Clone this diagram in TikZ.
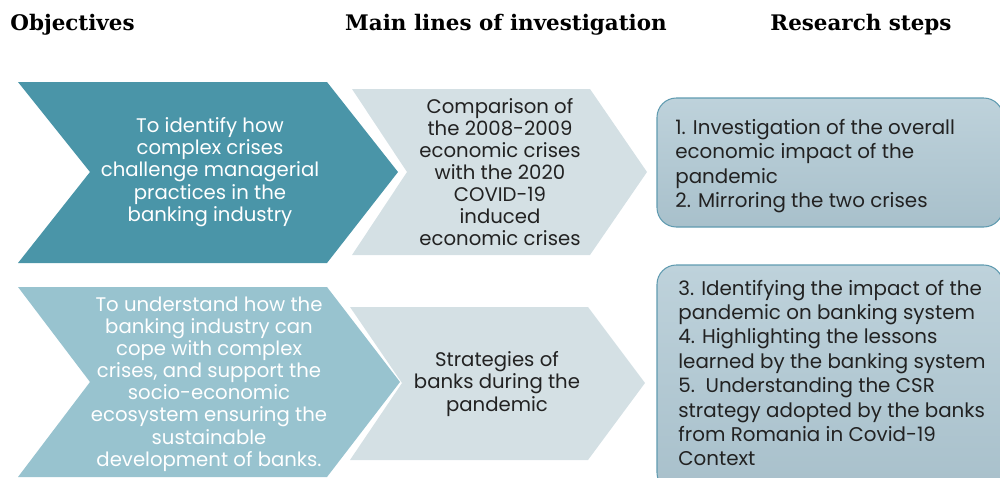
\documentclass[tikz,border=0pt]{standalone}
\usepackage{fontspec}
\setsansfont{Poppins}
\newfontfamily\headfont{DejaVu Serif}
\definecolor{tealdark}{RGB}{74,149,168}
\definecolor{teallight}{RGB}{152,195,207}
\definecolor{greyblue}{RGB}{212,224,228}
\definecolor{boxtop}{RGB}{190,210,219}
\definecolor{boxbot}{RGB}{168,192,203}
\definecolor{boxline}{RGB}{96,155,176}
\definecolor{inktext}{RGB}{34,34,34}

\begin{document}
\begin{tikzpicture}[x=0.02cm,y=-0.02cm,
    head/.style={font=\headfont\bfseries\fontsize{12.2}{14}\selectfont,inner sep=0pt},
    chevtext/.style={font=\sffamily\fontsize{11.2}{12.6}\selectfont,align=center,inner sep=0pt},
    boxtext/.style={font=\sffamily\fontsize{11.3}{13.9}\selectfont,align=left,inner sep=0pt,text=inktext},
    stepbox/.style={draw=boxline,line width=0.6pt,rounded corners=11pt,top color=boxtop,bottom color=boxbot}]

  \useasboundingbox (0,0) rectangle (1000,477);

  % column headings
  \node[head,anchor=base west] (hobj) at (10,30) {Objectives};
  \node[head,anchor=base] (hlines) at (506,30) {Main lines of investigation};
  \node[head,anchor=base] (hsteps) at (861,30) {Research steps};

  % first row
  \fill[tealdark] (18,82) -- (327,82) -- (398,172) -- (327,263) -- (18,263) -- (90,172) -- cycle;
  \fill[greyblue] (352,89) -- (590,89) -- (647,172) -- (590,255) -- (352,255) -- (407,172) -- cycle;
  \draw[stepbox] (657,98) rectangle (1003,227);

  \node[chevtext,text=white] (obj1) at (210,172) {To identify how\\complex crises\\challenge managerial\\practices in the\\banking industry};
  \node[chevtext,text=inktext] (line1) at (500,172) {Comparison of\\the 2008-2009\\economic crises\\with the 2020\\COVID-19\\induced\\economic crises};
  \node[boxtext,anchor=west] (step1) at (675,166) {1. Investigation of the overall\\economic impact of the\\pandemic\\2. Mirroring the two crises};

  % second row
  \fill[teallight] (18,287) -- (327,287) -- (400,382) -- (327,477) -- (18,477) -- (90,382) -- cycle;
  \fill[greyblue] (350,307) -- (588,307) -- (645,383) -- (588,460) -- (350,460) -- (402,383) -- cycle;
  \draw[stepbox] (657,265) rectangle (1003,492);

  \node[chevtext,text=white] (obj2) at (209,384) {To understand how the\\banking industry can\\cope with complex\\crises, and support the\\socio-economic\\ecosystem ensuring the\\sustainable\\development of banks.};
  \node[chevtext,text=inktext] (line2) at (497,384) {Strategies of\\banks during the\\pandemic};
  \node[boxtext,anchor=west] (step2) at (678,373) {3. Identifying the impact of the\\pandemic on banking system\\4. Highlighting the lessons\\learned by the banking system\\5.\ \ Understanding the CSR\\strategy adopted by the banks\\from Romania in Covid-19\\Context};
\end{tikzpicture}
\end{document}
